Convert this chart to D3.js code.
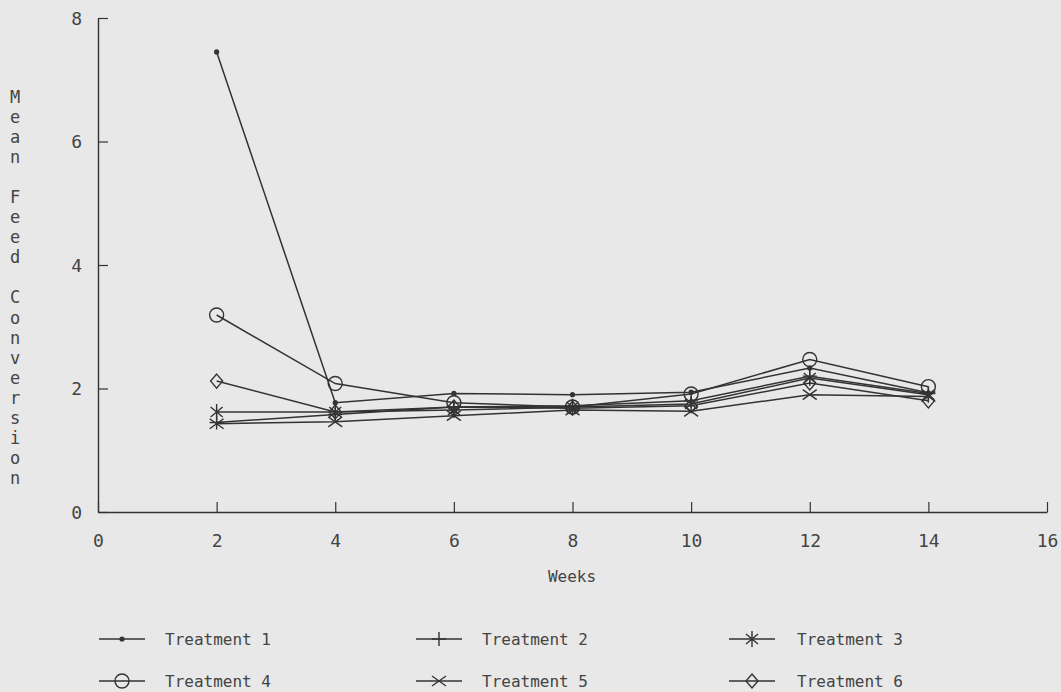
<!DOCTYPE html>
<html>
<head>
<meta charset="utf-8">
<script src="https://cdn.jsdelivr.net/npm/d3@7/dist/d3.min.js"></script>
<style>
html,body{margin:0;padding:0;background:#e8e8e8;}
svg{display:block;}
text{font-family:"DejaVu Sans Mono",monospace;fill:#444;}
</style>
</head>
<body>
<svg id="chart" width="1061" height="692"></svg>
<script>
const weeks = [2, 4, 6, 8, 10, 12, 14];
const treatment1 = [7.45, 1.77, 1.92, 1.90, 1.94, 2.33, 1.93];
const treatment2 = [1.45, 1.58, 1.70, 1.72, 1.80, 2.20, 1.92];
const treatment3 = [1.62, 1.62, 1.65, 1.70, 1.75, 2.17, 1.90];
const treatment4 = [3.19, 2.08, 1.77, 1.70, 1.91, 2.47, 2.03];
const treatment5 = [1.43, 1.46, 1.56, 1.65, 1.63, 1.90, 1.87];
const treatment6 = [2.12, 1.62, 1.70, 1.68, 1.72, 2.09, 1.80];
const seriesNames = ["Treatment 1","Treatment 2","Treatment 3","Treatment 4","Treatment 5","Treatment 6"];
const xTicks = [0,2,4,6,8,10,12,14,16];
const yTicks = [0,2,4,6,8];
const yTitle = "Mean Feed Conversion";
const xTitle = "Weeks";

const seriesValues = [treatment1,treatment2,treatment3,treatment4,treatment5,treatment6];
const markerTypes = ["dot","plus","asterisk","circle","cross","diamond"];
const ink = "#333";

const svg = d3.select("#chart");
const x = d3.scaleLinear().domain([0,16]).range([98,1047]);
const y = d3.scaleLinear().domain([0,8]).range([512,18]);

// axes
const xAxis = d3.axisBottom(x).tickValues(xTicks).tickSizeInner(-10).tickSizeOuter(0).tickPadding(22);
const gx = svg.append("g").attr("transform",`translate(0,${y(0)})`).call(xAxis);
const yAxis = d3.axisLeft(y).tickValues(yTicks).tickSizeInner(-10).tickSizeOuter(0).tickPadding(16);
const gy = svg.append("g").attr("transform",`translate(${x(0)},0)`).call(yAxis);
[gx,gy].forEach(g=>{
  g.select(".domain").attr("stroke",ink).attr("stroke-width",1.4);
  g.selectAll(".tick line").attr("stroke",ink).attr("stroke-width",1.2);
  g.selectAll(".tick text").style("font-family","'DejaVu Sans Mono',monospace").style("font-size","18px").attr("fill","#4a4a4a");
});
gy.selectAll(".tick text").attr("dy","0.35em");

// y title stacked letters
svg.append("g").selectAll("text").data(yTitle.split("")).join("text")
  .attr("x",15).attr("y",(d,i)=>97+i*20.05).attr("text-anchor","middle").attr("dy","0.35em")
  .style("font-size","17px").text(d=>d);

svg.append("text").attr("x",572).attr("y",576).attr("text-anchor","middle").attr("dy","0.35em")
  .style("font-size","16px").text(xTitle);

function drawMarker(g, type, cx, cy){
  const s = g.append("g").attr("transform",`translate(${cx},${cy})`)
    .attr("stroke",ink).attr("stroke-width",1.4).attr("fill","none");
  if(type==="dot"){ s.append("circle").attr("r",2.6).attr("fill",ink).attr("stroke","none"); }
  else if(type==="plus"){ s.append("path").attr("d","M0,-7V7M-7,0H7"); }
  else if(type==="asterisk"){ s.append("path").attr("d","M0,-8V8M-6,-5L6,5M-6,5L6,-5"); }
  else if(type==="circle"){ s.append("circle").attr("r",7); }
  else if(type==="cross"){ s.append("path").attr("d","M-7,-5L7,5M-7,5L7,-5"); }
  else if(type==="diamond"){ s.append("path").attr("d","M0,-7L6,0L0,7L-6,0Z"); }
}

const line = d3.line().x(d=>x(d[0])).y(d=>y(d[1]));
const plot = svg.append("g");
seriesValues.forEach((vals,i)=>{
  const pts = weeks.map((w,j)=>[w,vals[j]]);
  plot.append("path").datum(pts).attr("d",line).attr("fill","none").attr("stroke",ink).attr("stroke-width",1.5);
  pts.forEach(p=>drawMarker(plot, markerTypes[i], x(p[0]), y(p[1])));
});

// legend
const colX = [99, 416, 729];
const colText = [165, 482, 797];
const rowY = [639, 681];
seriesNames.forEach((name,i)=>{
  const c = i%3, r = Math.floor(i/3);
  const lg = svg.append("g");
  lg.append("line").attr("x1",colX[c]).attr("x2",colX[c]+46).attr("y1",rowY[r]).attr("y2",rowY[r])
    .attr("stroke",ink).attr("stroke-width",1.4);
  drawMarker(lg, markerTypes[i], colX[c]+23, rowY[r]);
  lg.append("text").attr("x",colText[c]).attr("y",rowY[r]).attr("dy","0.35em").style("font-size","16px").text(name);
});
</script>
</body>
</html>
